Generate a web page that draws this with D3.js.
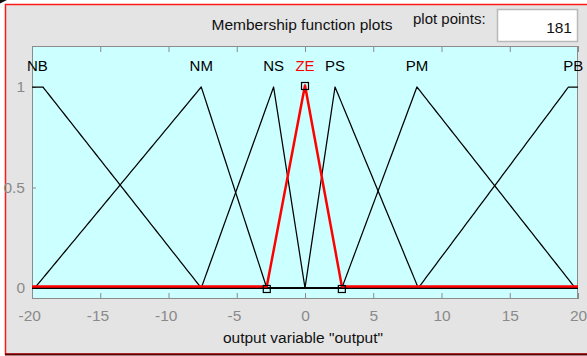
<!DOCTYPE html>
<html>
<head>
<meta charset="utf-8">
<script src="https://cdn.jsdelivr.net/npm/d3@7"></script>
<style>
  html, body { margin: 0; padding: 0; background: #ffffff; }
  svg { display: block; font-family: "Liberation Sans", Arial, sans-serif; }
</style>
</head>
<body>
<svg id="chart" width="587" height="356"></svg>
<script>
// Output variable universe and membership functions (trimf / trapmf parameters)
const rangeX = [-20, 20];
const mfNames = ["NB", "NM", "NS", "ZE", "PS", "PM", "PB"];
const mfTypes = ["trapmf", "trimf", "trimf", "trimf", "trimf", "trimf", "trapmf"];
const mfParams = [
  [-20, -20, -19.2, -7.6],
  [-19.8, -7.6, -2.8],
  [-7.6, -2.3, 0],
  [-2.8, 0, 2.7],
  [0, 2.2, 8.3],
  [2.7, 8.2, 19.8],
  [8.3, 19.3, 20, 20]
];
const selectedMf = "ZE";
const xTicks = [-20, -15, -10, -5, 0, 5, 10, 15, 20];
const yTicks = [0, 0.5, 1];
const plotPoints = 181;
const titleText = "Membership function plots";
const pointsLabel = "plot points:";
const xLabel = 'output variable "output"';

const svg = d3.select("#chart");

// Figure panel
svg.append("rect").attr("x", 5.5).attr("y", 4.5).attr("width", 590).attr("height", 349.5)
  .attr("fill", "#e4e4e4").attr("stroke", "#ff1a1a").attr("stroke-width", 1.5);
svg.append("line").attr("x1", 5).attr("x2", 587).attr("y1", 354.5).attr("y2", 354.5)
  .attr("stroke", "#5a0000").attr("stroke-width", 2);
svg.append("path").attr("d", "M0,0 L7,0 L0,3.5 Z").attr("fill", "#111");

// Plot area
const box = { left: 32, right: 578, top: 46, bottom: 299 };
const x = d3.scaleLinear().domain(rangeX).range([box.left, box.right]);
const y = d3.scaleLinear().domain([0, 1]).range([288, 87]);

svg.append("rect").attr("x", box.left).attr("y", box.top)
  .attr("width", box.right - box.left).attr("height", box.bottom - box.top)
  .attr("fill", "#ccffff");

// Axes: ticks point inward, labels in grey
const tickColor = "#8a8a8a";
const xAxisBottom = d3.axisBottom(x).tickValues(xTicks).tickSize(-6).tickPadding(11)
  .tickFormat(d => d3.format("d")(Math.abs(d)));
const gxb = svg.append("g").attr("transform", `translate(0,${box.bottom})`).call(xAxisBottom);
gxb.selectAll("text").each(function(d) {
  const t = d3.select(this);
  if (d < 0) t.text("-" + Math.abs(d)).attr("dx", -2.8);
});
const xAxisTop = d3.axisTop(x).tickValues(xTicks).tickSize(-6).tickFormat("");
const gxt = svg.append("g").attr("transform", `translate(0,${box.top})`).call(xAxisTop);
const yAxisLeft = d3.axisLeft(y).tickValues(yTicks).tickSize(-4).tickPadding(7)
  .tickFormat(d3.format("~g"));
const gyl = svg.append("g").attr("transform", `translate(${box.left},0)`).call(yAxisLeft);

[gxb, gxt, gyl].forEach(g => {
  g.select(".domain").remove();
  g.selectAll(".tick line").attr("stroke", tickColor);
  g.selectAll("text").attr("fill", tickColor).attr("font-size", 15.5)
    .attr("font-family", '"Liberation Sans", Arial, sans-serif');
});

// Box outline
svg.append("rect").attr("x", box.left + 0.5).attr("y", box.top + 0.5)
  .attr("width", box.right - box.left - 1).attr("height", box.bottom - box.top - 1)
  .attr("fill", "none").attr("stroke", "#8c8c8c").attr("stroke-width", 1);

// Membership function curves sampled over the universe
const samples = d3.range(plotPoints).map(i => rangeX[0] + i * (rangeX[1] - rangeX[0]) / (plotPoints - 1));
function mfValue(type, p, v) {
  if (type === "trimf") {
    const [a, b, c] = p;
    const l = b === a ? (v >= a ? 1 : 0) : (v - a) / (b - a);
    const r = c === b ? (v <= c ? 1 : 0) : (c - v) / (c - b);
    return Math.max(0, Math.min(l, r));
  }
  const [a, b, c, d] = p;
  const l = b === a ? (v >= a ? 1 : 0) : (v - a) / (b - a);
  const r = d === c ? (v <= d ? 1 : 0) : (d - v) / (d - c);
  return Math.max(0, Math.min(l, 1, r));
}
function curve(i) {
  const pts = samples.map(v => [v, mfValue(mfTypes[i], mfParams[i], v)]);
  // include the breakpoints so corners stay sharp
  mfParams[i].forEach(v => pts.push([v, mfValue(mfTypes[i], mfParams[i], v)]));
  pts.sort((a, b) => a[0] - b[0]);
  return pts;
}
const line = d3.line().x(d => x(d[0])).y(d => y(d[1]));

const plot = svg.append("g");
mfNames.forEach((name, i) => {
  if (name === selectedMf) return;
  plot.append("path").attr("d", line(curve(i)))
    .attr("fill", "none").attr("stroke", "#000").attr("stroke-width", 1.25)
    .attr("stroke-linejoin", "round");
});
const sel = mfNames.indexOf(selectedMf);
plot.append("path").attr("d", line(curve(sel)))
  .attr("transform", "translate(0,-1.6)")
  .attr("fill", "none").attr("stroke", "#ff0000").attr("stroke-width", 2.5)
  .attr("stroke-linejoin", "round");

// Handles on the selected function's vertices
plot.selectAll("rect.handle").data(mfParams[sel]).enter().append("rect")
  .attr("class", "handle")
  .attr("x", d => x(d) - 3.5)
  .attr("y", d => y(mfValue("trimf", mfParams[sel], d)) - 3.5 + (mfValue("trimf", mfParams[sel], d) === 0 ? 1 : -1))
  .attr("width", 7).attr("height", 7)
  .attr("fill", "none").attr("stroke", "#000").attr("stroke-width", 1.2);

// Function names above each plateau
mfNames.forEach((name, i) => {
  const p = mfParams[i];
  const cx = mfTypes[i] === "trimf" ? p[1] : (p[1] + p[2]) / 2;
  svg.append("text").attr("x", x(cx)).attr("y", y(1) - 16)
    .attr("text-anchor", "middle").attr("font-size", 15)
    .attr("fill", name === selectedMf ? "#ff0000" : "#000")
    .text(name);
});

// Header
svg.append("text").attr("x", 302).attr("y", 30).attr("text-anchor", "middle")
  .attr("font-size", 15.5).attr("fill", "#111").text(titleText);
svg.append("text").attr("x", 413).attr("y", 24).attr("font-size", 15)
  .attr("fill", "#111").text(pointsLabel);
svg.append("rect").attr("x", 497.5).attr("y", 9.5).attr("width", 80).attr("height", 32)
  .attr("fill", "#ffffff").attr("stroke", "#b9b9b9").attr("stroke-width", 1.5);
svg.append("text").attr("x", 572).attr("y", 33).attr("text-anchor", "end")
  .attr("font-size", 15.5).attr("fill", "#111").text(plotPoints);

// Axis title
svg.append("text").attr("x", 303).attr("y", 343).attr("text-anchor", "middle")
  .attr("font-size", 15.5).attr("fill", "#111").text(xLabel);
</script>
</body>
</html>
